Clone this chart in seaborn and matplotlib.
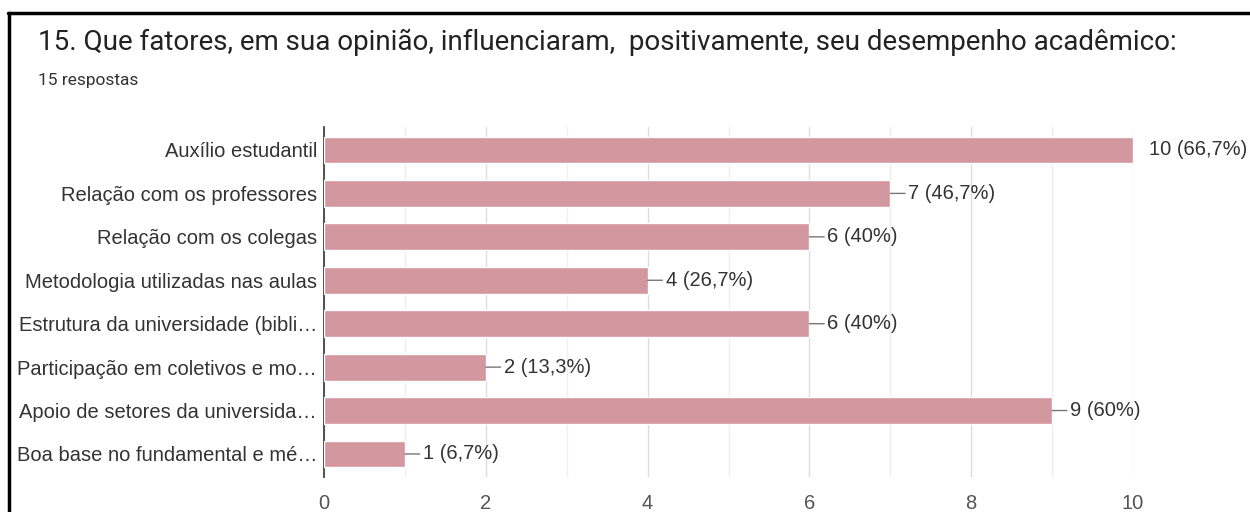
import matplotlib
matplotlib.use("Agg")
import matplotlib.pyplot as plt
import seaborn as sns
import pandas as pd
from matplotlib.lines import Line2D
from matplotlib.ticker import MultipleLocator

categories = [
    "Auxílio estudantil",
    "Relação com os professores",
    "Relação com os colegas",
    "Metodologia utilizadas nas aulas",
    "Estrutura da universidade (bibli…",
    "Participação em coletivos e mo…",
    "Apoio de setores da universida…",
    "Boa base no fundamental e mé…",
]
counts = [10, 7, 6, 4, 6, 2, 9, 1]
percents = ["66,7%", "46,7%", "40%", "26,7%", "40%", "13,3%", "60%", "6,7%"]
xticks = [0, 2, 4, 6, 8, 10]

df = pd.DataFrame({"cat": categories, "n": counts})

sns.set_theme(style="white")
plt.rcParams["font.family"] = ["Liberation Sans", "DejaVu Sans"]

fig = plt.figure(figsize=(12.5, 5.12), dpi=100)
ax = fig.add_axes([0.2592, 0.0684, 0.6472, 0.6836])

sns.barplot(data=df, x="n", y="cat", orient="h", color="#d3979f",
            saturation=1, width=0.62, ax=ax, zorder=3)

ax.set_xlim(0, 10)
ax.set_ylim(7.53, -0.53)
ax.set_xticks(xticks)
ax.set_xticklabels([str(t) for t in xticks])
ax.xaxis.set_minor_locator(MultipleLocator(1))
ax.grid(axis="x", which="major", color="#dcdcdc", linewidth=1, zorder=0)
ax.grid(axis="x", which="minor", color="#eeeeee", linewidth=1, zorder=0)
ax.set_axisbelow(True)
ax.set_xlabel("")
ax.set_ylabel("")
for s in ["top", "right", "bottom"]:
    ax.spines[s].set_visible(False)
ax.spines["left"].set_color("#444444")
ax.spines["left"].set_linewidth(1.3)
ax.tick_params(axis="y", length=0, pad=5, labelsize=14.5, labelcolor="#333333")
ax.tick_params(axis="x", which="both", length=0, pad=12, labelsize=14.5, labelcolor="#555555")

for i, (n, p) in enumerate(zip(counts, percents)):
    if n == max(counts):
        ax.annotate(f"{n} ({p})", xy=(n, i), xytext=(11.5, 0), textcoords="offset points",
                    va="center", ha="left", fontsize=14.5, color="#333333",
                    annotation_clip=False)
    else:
        ax.annotate(f"{n} ({p})", xy=(n, i), xytext=(13, 0), textcoords="offset points",
                    va="center", ha="left", fontsize=14.5, color="#333333",
                    arrowprops=dict(arrowstyle="-", color="#777777", lw=1,
                                    shrinkA=0, shrinkB=0),
                    annotation_clip=False)

fig.text(0.0304, 0.918, "15. Que fatores, em sua opinião, influenciaram,  positivamente, seu desempenho acadêmico:",
         fontsize=20, color="#222222", family=["Roboto", "DejaVu Sans"], va="center")
fig.text(0.0304, 0.843, "15 respostas", fontsize=12.5, color="#333333",
         family=["Roboto", "DejaVu Sans"], va="center")

# frame border (top and left visible)
fig.add_artist(Line2D([0.0064, 1.0], [0.975, 0.975], color="black", lw=2.5, transform=fig.transFigure))
fig.add_artist(Line2D([0.0072, 0.0072], [0.0, 0.975], color="black", lw=2.5, transform=fig.transFigure))

fig.savefig("out.png", dpi=100)
